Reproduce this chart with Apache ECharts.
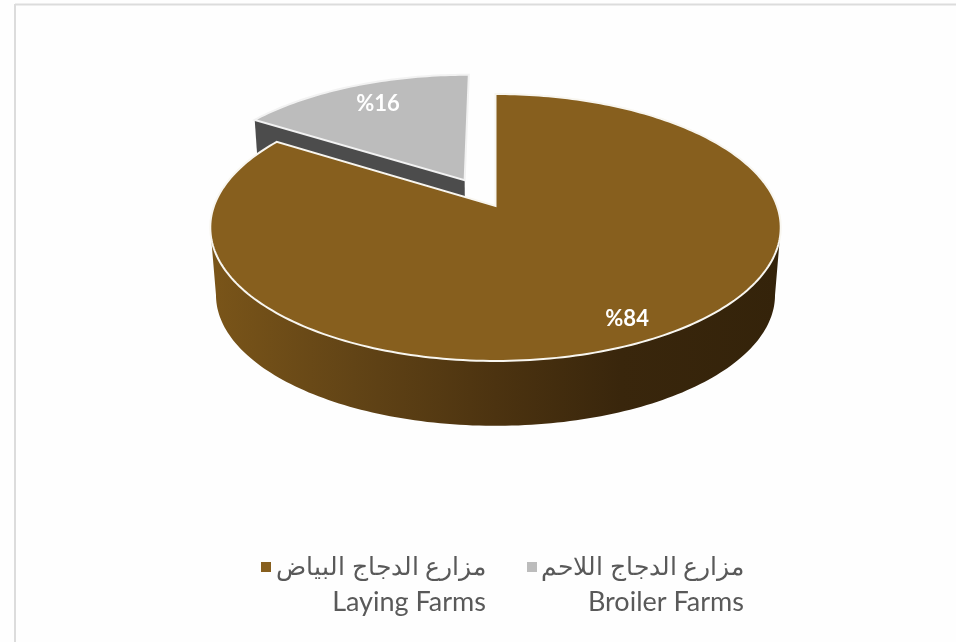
<!DOCTYPE html>
<html><head><meta charset="utf-8">
<style>html,body{margin:0;padding:0;background:#fefefe}#c{width:956px;height:642px}</style>
<script src="https://cdn.jsdelivr.net/npm/echarts@6/dist/echarts.min.js"></script>
</head><body><div id="c"></div>
<script>
const names = ['مزارع الدجاج البياض\nLaying Farms', 'مزارع الدجاج اللاحم\nBroiler Farms'];
const values = [84, 16];
const labels = ['%84', '%16'];
const colors = ['#875f1e', '#bcbcbc'];

// pie view: a projective tilt of the unit circle
const view = {cx: 495.5, cy: 206, B: 281.5, A: 130, p: -0.161, dz: 68, s: 0.98, explode: 0.235};
const total = values.reduce((a, b) => a + b, 0);
const shares = values.map(v => v / total * Math.PI * 2);

function project(u, v, low) {
  const k = low ? view.s : 1, d = 1 + view.p * v;
  return [view.cx + k * view.B * u / d, view.cy + (low ? view.dz : 0) + k * view.A * v / d];
}
function rim(a0, a1, ox, oy, low) {
  const pts = [], n = Math.max(2, Math.ceil(Math.abs(a1 - a0) / 0.02));
  for (let i = 0; i <= n; i++) {
    const a = a0 + (a1 - a0) * i / n;
    pts.push(project(ox + Math.sin(a), oy - Math.cos(a), low));
  }
  return pts;
}
function renderSlice(idx) {
  return function () {
    const a0 = shares.slice(0, idx).reduce((a, b) => a + b, 0), a1 = a0 + shares[idx];
    const mid = (a0 + a1) / 2;
    const e = idx === 1 ? view.explode : 0;
    const ox = e * Math.sin(mid), oy = -e * Math.cos(mid);
    const children = [];
    if (idx === 0) {
      const t = Math.acos(view.p);
      const top = rim(t, Math.PI * 2 - t, ox, oy, false);
      const low = rim(Math.PI * 2 - t, t, ox, oy, true);
      children.push({type: 'polygon', shape: {points: top.concat(low)}, style: {
        fill: {type: 'linear', x: 0, y: 0, x2: 1, y2: 0, colorStops: [
          {offset: 0, color: '#7a5519'}, {offset: 0.25, color: '#624416'},
          {offset: 0.5, color: '#4c3310'}, {offset: 0.72, color: '#39260c'}, {offset: 1, color: '#34230a'}]}}});
    } else {
      // radial wall seen behind the large slice
      const a = project(ox, oy, false), b = project(ox + Math.sin(a0), oy - Math.cos(a0), false);
      const al = project(ox, oy, true), bl = project(ox + Math.sin(a0), oy - Math.cos(a0), true);
      children.push({type: 'polygon', shape: {points: [b, a, al, bl]}, style: {fill: '#4c4c4c'}});
    }
    const face = rim(a0, a1, ox, oy, false);
    face.push(project(ox, oy, false));
    children.push({type: 'polygon', shape: {points: face},
      style: {fill: colors[idx], stroke: idx === 0 ? '#f8f6f0' : '#f2f2f2', lineWidth: 2, lineJoin: 'miter'}});
    const r = idx === 0 ? 0.865 : 0.8;
    const lp = project(ox + r * Math.sin(mid), oy - r * Math.cos(mid), false);
    children.push({type: 'text', style: {text: labels[idx], x: lp[0] + (idx === 1 ? 5 : -2), y: lp[1] + 1,
      fill: '#ffffff', font: 'bold 22px Lato', align: 'center', verticalAlign: 'middle'}});
    return {type: 'group', children};
  };
}
const seriesOf = i => ({
  type: 'custom', name: names[i], coordinateSystem: 'none', data: [values[i]], z: i === 0 ? 3 : 2,
  silent: true, animation: false, itemStyle: {color: colors[i]}, renderItem: renderSlice(i)
});
const chart = echarts.init(document.getElementById('c'), null, {renderer: 'canvas'});
chart.setOption({
  backgroundColor: '#fefefe', animation: false,
  graphic: [
    {type: 'line', shape: {x1: 15, y1: 4.5, x2: 956, y2: 4.5}, style: {stroke: '#dcdcdc', lineWidth: 2}},
    {type: 'line', shape: {x1: 15, y1: 4, x2: 15, y2: 642}, style: {stroke: '#dcdcdc', lineWidth: 2}}
  ],
  legend: {
    left: 261, top: 526, orient: 'horizontal', padding: 0, itemGap: 41, itemWidth: 10, itemHeight: 10,
    icon: 'rect', selectedMode: false, data: names,
    formatter: n => {
      const i = names.indexOf(n), parts = n.split('\n');
      return '{s' + i + '| }\n{a' + i + '|' + parts[0] + '}\n{b' + i + '|' + parts[1] + '}';
    },
    textStyle: {rich: {
      s0: {width: 210, lineHeight: 35, fontSize: 12},
      a0: {width: 210, align: 'right', lineHeight: 35, fontSize: 24.6, color: '#595959', fontFamily: 'Lato'},
      b0: {width: 210, align: 'right', lineHeight: 35, fontSize: 27, color: '#595959', fontFamily: 'Lato'},
      s1: {width: 202, lineHeight: 35, fontSize: 12},
      a1: {width: 202, align: 'right', lineHeight: 35, fontSize: 24.6, color: '#595959', fontFamily: 'Lato'},
      b1: {width: 202, align: 'right', lineHeight: 35, fontSize: 27, color: '#595959', fontFamily: 'Lato'}
    }}
  },
  series: [seriesOf(0), seriesOf(1)]
});
</script></body></html>
